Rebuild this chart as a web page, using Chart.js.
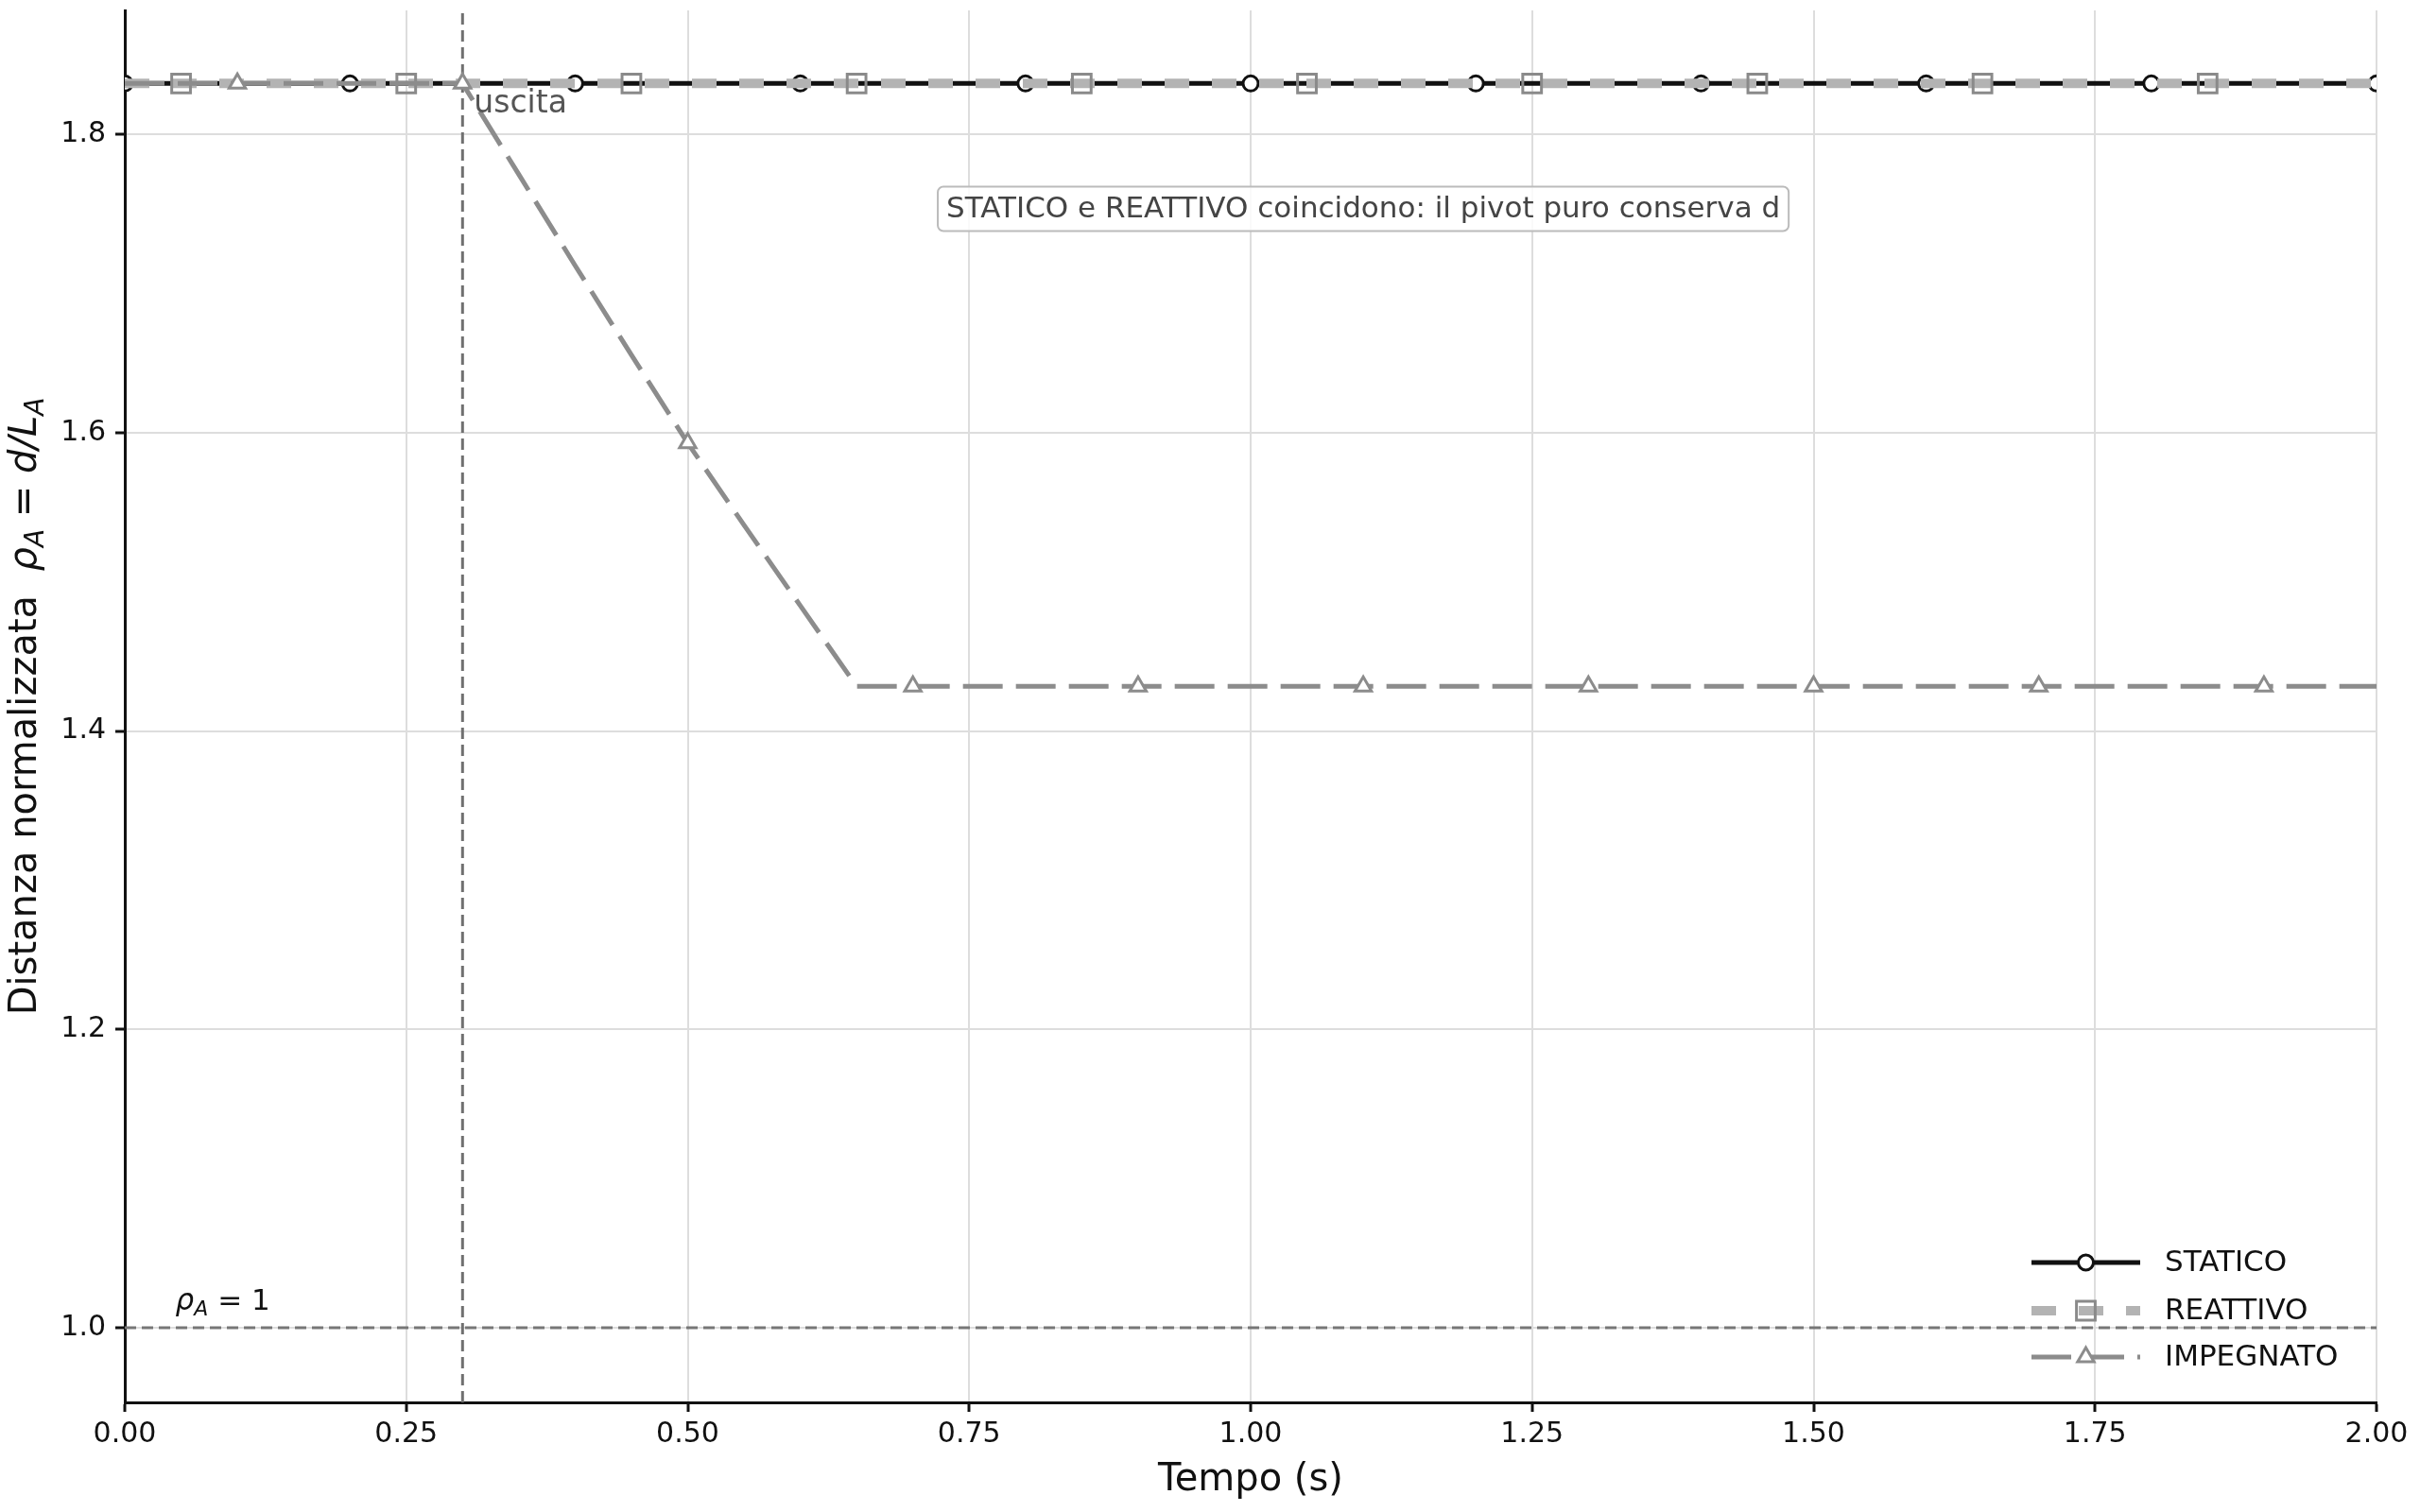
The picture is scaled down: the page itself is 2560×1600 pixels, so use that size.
<!DOCTYPE html>
<html>
<head>
<meta charset="utf-8">
<title>Distanza normalizzata rho_A</title>
<script src="https://cdn.jsdelivr.net/npm/chart.js@4.4.1/dist/chart.umd.min.js"></script>
<style>
  html, body { margin: 0; padding: 0; background: #ffffff; }
  #wrap { width: 2560px; height: 1600px; }
</style>
</head>
<body>
<div id="wrap"><canvas id="rhoChart" width="2560" height="1600"></canvas></div>
<script>
// tempo (s) e distanza normalizzata rho_A = d/L_A per ogni strategia
const staticoT   = [0, 0.2, 0.4, 0.6, 0.8, 1.0, 1.2, 1.4, 1.6, 1.8, 2.0];
const staticoRho = [1.834, 1.834, 1.834, 1.834, 1.834, 1.834, 1.834, 1.834, 1.834, 1.834, 1.834];
const staticoMarks = [0, 0.2, 0.4, 0.6, 0.8, 1.0, 1.2, 1.4, 1.6, 1.8, 2.0];

const reattivoT   = [0, 0.05, 0.25, 0.45, 0.65, 0.85, 1.05, 1.25, 1.45, 1.65, 1.85, 2.0];
const reattivoRho = [1.834, 1.834, 1.834, 1.834, 1.834, 1.834, 1.834, 1.834, 1.834, 1.834, 1.834, 1.834];
const reattivoMarks = [0.05, 0.25, 0.45, 0.65, 0.85, 1.05, 1.25, 1.45, 1.65, 1.85];

const impegnatoT   = [0, 0.1, 0.3, 0.35, 0.4, 0.45, 0.5, 0.55, 0.6, 0.65, 0.7, 0.9, 1.1, 1.3, 1.5, 1.7, 1.9, 2.0];
const impegnatoRho = [1.834, 1.834, 1.834, 1.773, 1.712, 1.652, 1.593, 1.538, 1.484, 1.430,
                      1.430, 1.430, 1.430, 1.430, 1.430, 1.430, 1.430, 1.430];
const impegnatoMarks = [0.1, 0.3, 0.5, 0.7, 0.9, 1.1, 1.3, 1.5, 1.7, 1.9];

const exitTime = 0.3;
const rhoOne = 1.0;

const xTicks = [0, 0.25, 0.5, 0.75, 1.0, 1.25, 1.5, 1.75, 2.0];
const yTicks = [1.0, 1.2, 1.4, 1.6, 1.8];
const xRange = [0, 2];
const yRange = [0.95, 1.883];

const noteText = 'STATICO e REATTIVO coincidono: il pivot puro conserva d';
const notePos = [1.1, 1.75];
const exitLabel = 'uscita';
const rhoLabelPos = [0.045, 1.0];

const FONT = 'DejaVu Sans';

function toPoints(ts, vs) {
    return ts.map((t, i) => ({ x: t, y: vs[i] }));
}

function markRadius(marks, r) {
    return ctx => (ctx.raw && marks.includes(ctx.raw.x)) ? r : 0;
}

// legend entries drawn by hand so each sample shows line + marker like the original
const legendItems = [
    { text: 'STATICO',   color: '#111111', width: 5,  dash: [],       style: 'circle',   r: 8,  fill: '#ffffff', edge: '#111111' },
    { text: 'REATTIVO',  color: '#b3b3b3', width: 10, dash: [26, 24], style: 'rect',     r: 14, fill: 'rgba(0,0,0,0)', edge: '#8a8a8a' },
    { text: 'IMPEGNATO', color: '#8c8c8c', width: 5,  dash: [42, 14], style: 'triangle', r: 10, fill: '#ffffff', edge: '#8c8c8c' }
];

function drawParts(ctx, parts, x, y, align) {
    let total = 0;
    parts.forEach(p => {
        ctx.font = p.font;
        p.w = ctx.measureText(p.text).width;
        total += p.w;
    });
    let cx = align === 'center' ? x - total / 2 : x;
    ctx.textAlign = 'left';
    ctx.textBaseline = 'alphabetic';
    parts.forEach(p => {
        ctx.font = p.font;
        ctx.fillText(p.text, cx, y + (p.dy || 0));
        cx += p.w;
    });
}

const overlay = {
    id: 'overlay',
    afterDraw(chart) {
        const { ctx, chartArea: area, scales: { x, y } } = chart;
        ctx.save();

        // note box
        const nx = x.getPixelForValue(notePos[0]);
        const ny = y.getPixelForValue(notePos[1]);
        ctx.font = `31px "${FONT}"`;
        const tw = ctx.measureText(noteText).width;
        const bw = tw + 18, bh = 47;
        ctx.beginPath();
        ctx.roundRect(nx - bw / 2, ny - bh / 2, bw, bh, 6);
        ctx.fillStyle = 'rgba(255,255,255,0.85)';
        ctx.fill();
        ctx.lineWidth = 2;
        ctx.strokeStyle = '#bbbbbb';
        ctx.stroke();
        ctx.fillStyle = '#444444';
        ctx.textAlign = 'center';
        ctx.textBaseline = 'middle';
        ctx.fillText(noteText, nx, ny + 1);

        // "uscita" next to the vertical marker
        ctx.font = `33px "${FONT}"`;
        ctx.fillStyle = '#555555';
        ctx.textAlign = 'left';
        ctx.textBaseline = 'alphabetic';
        ctx.fillText(exitLabel, x.getPixelForValue(exitTime) + 12, y.getPixelForValue(staticoRho[0]) + 31);

        // rho_A = 1 label
        ctx.fillStyle = '#111111';
        drawParts(ctx, [
            { text: 'ρ', font: `italic 31px "${FONT}"` },
            { text: 'A', font: `italic 22px "${FONT}"`, dy: 6 },
            { text: ' = 1', font: `31px "${FONT}"` }
        ], x.getPixelForValue(rhoLabelPos[0]), y.getPixelForValue(rhoLabelPos[1]) - 19);

        // legend, lower right
        const lx0 = area.right - 365, lx1 = area.right - 250, tx = area.right - 224;
        const rows = [area.bottom - 148, area.bottom - 97, area.bottom - 48];
        legendItems.forEach((it, i) => {
            const ly = rows[i];
            ctx.beginPath();
            ctx.setLineDash(it.dash);
            ctx.lineDashOffset = 0;
            ctx.lineWidth = it.width;
            ctx.strokeStyle = it.color;
            ctx.moveTo(lx0, ly);
            ctx.lineTo(lx1, ly);
            ctx.stroke();
            ctx.setLineDash([]);
            ctx.fillStyle = it.fill;
            ctx.strokeStyle = it.edge;
            ctx.lineWidth = 3;
            Chart.helpers.drawPoint(ctx, { pointStyle: it.style, rotation: 0, radius: it.r, borderWidth: 3 },
                (lx0 + lx1) / 2, ly);
            ctx.fillStyle = '#111111';
            ctx.font = `31px "${FONT}"`;
            ctx.textAlign = 'left';
            ctx.textBaseline = 'middle';
            ctx.fillText(it.text, tx, ly + 1);
        });

        // axis titles
        ctx.fillStyle = '#111111';
        ctx.font = `40px "${FONT}"`;
        ctx.textAlign = 'center';
        ctx.textBaseline = 'alphabetic';
        ctx.fillText('Tempo (s)', (area.left + area.right) / 2, 1577);

        ctx.translate(38, (area.top + area.bottom) / 2);
        ctx.rotate(-Math.PI / 2);
        drawParts(ctx, [
            { text: 'Distanza normalizzata  ', font: `40px "${FONT}"` },
            { text: 'ρ', font: `italic 40px "${FONT}"` },
            { text: 'A', font: `italic 28px "${FONT}"`, dy: 8 },
            { text: ' = ', font: `40px "${FONT}"` },
            { text: 'd/L', font: `italic 40px "${FONT}"` },
            { text: 'A', font: `italic 28px "${FONT}"`, dy: 8 }
        ], 0, 0, 'center');

        ctx.restore();
    }
};

const ctx = document.getElementById('rhoChart').getContext('2d');
new Chart(ctx, {
    type: 'line',
    data: {
        datasets: [
            {
                label: 'STATICO',
                data: toPoints(staticoT, staticoRho),
                borderColor: '#111111',
                borderWidth: 5,
                pointStyle: 'circle',
                pointRadius: markRadius(staticoMarks, 8),
                pointBorderWidth: 3,
                pointBackgroundColor: '#ffffff',
                pointBorderColor: '#111111',
                clip: 0,
                order: 3
            },
            {
                label: 'REATTIVO',
                data: toPoints(reattivoT, reattivoRho),
                borderColor: '#b3b3b3',
                borderWidth: 10,
                borderDash: [26, 24],
                pointStyle: 'rect',
                pointRadius: markRadius(reattivoMarks, 14),
                pointBorderWidth: 3,
                pointBackgroundColor: 'rgba(0,0,0,0)',
                pointBorderColor: '#8a8a8a',
                clip: 0,
                order: 2
            },
            {
                label: 'IMPEGNATO',
                data: toPoints(impegnatoT, impegnatoRho),
                borderColor: '#8c8c8c',
                borderWidth: 5,
                borderDash: [42, 14],
                pointStyle: 'triangle',
                pointRadius: markRadius(impegnatoMarks, 10),
                pointBorderWidth: 3,
                pointBackgroundColor: '#ffffff',
                pointBorderColor: '#8c8c8c',
                clip: 0,
                order: 1
            },
            {
                label: 'rho = 1',
                data: [{ x: xRange[0], y: rhoOne }, { x: xRange[1], y: rhoOne }],
                borderColor: '#777777',
                borderWidth: 3,
                borderDash: [12, 6],
                pointRadius: 0,
                clip: 0,
                order: 10
            },
            {
                label: 'uscita',
                data: [{ x: exitTime, y: yRange[0] }, { x: exitTime, y: yRange[1] }],
                borderColor: '#707070',
                borderWidth: 3,
                borderDash: [12, 6],
                pointRadius: 0,
                clip: 0,
                order: 9
            }
        ]
    },
    options: {
        responsive: false,
        devicePixelRatio: 1,
        animation: false,
        events: [],
        layout: { padding: { top: 8, right: 46, left: 0, bottom: 0 } },
        plugins: {
            legend: { display: false },
            tooltip: { enabled: false },
            title: { display: false }
        },
        scales: {
            x: {
                type: 'linear',
                position: 'bottom',
                min: xRange[0],
                max: xRange[1],
                afterBuildTicks: s => { s.ticks = xTicks.map(v => ({ value: v })); },
                afterFit: s => { s.height = 116; s.paddingLeft = 0; s.paddingRight = 0; },
                ticks: {
                    callback: v => Number(v).toFixed(2),
                    font: { family: FONT, size: 30 },
                    color: '#111111',
                    padding: 6,
                    autoSkip: false,
                    maxRotation: 0
                },
                grid: { color: '#dddddd', lineWidth: 2, drawTicks: true, tickLength: 10, tickColor: '#111111', tickWidth: 3 },
                border: { display: true, color: '#111111', width: 3 }
            },
            y: {
                type: 'linear',
                position: 'left',
                min: yRange[0],
                max: yRange[1],
                afterBuildTicks: s => { s.ticks = yTicks.map(v => ({ value: v })); },
                afterFit: s => { s.width = 132; s.paddingTop = 0; s.paddingBottom = 0; },
                ticks: {
                    callback: v => Number(v).toFixed(1),
                    font: { family: FONT, size: 30 },
                    color: '#111111',
                    padding: 10,
                    autoSkip: false
                },
                grid: { color: '#dddddd', lineWidth: 2, drawTicks: true, tickLength: 10, tickColor: '#111111', tickWidth: 3 },
                border: { display: true, color: '#111111', width: 3 }
            }
        }
    },
    plugins: [overlay]
});
</script>
</body>
</html>
